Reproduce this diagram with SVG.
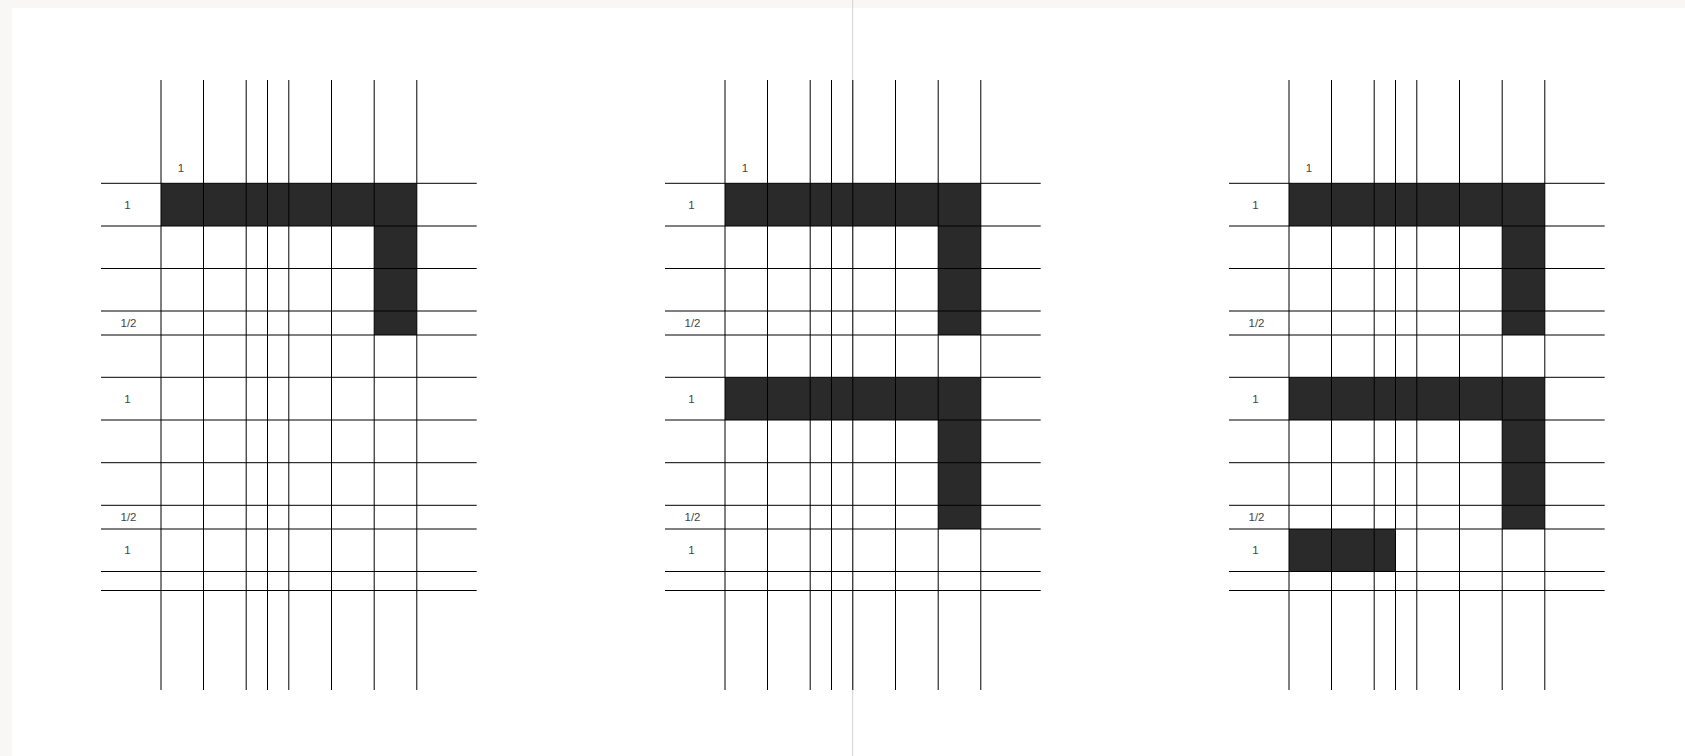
<svg xmlns="http://www.w3.org/2000/svg" xmlns:xlink="http://www.w3.org/1999/xlink" width="1685" height="756" viewBox="0 0 1685 756">
<style>
.ln{stroke:#000;stroke-width:1;fill:none}
.fill{fill:#2a2a2a}
.lbl{font-family:"Liberation Sans",Arial,sans-serif;font-size:11.5px;fill:#444;text-anchor:middle;dominant-baseline:central}
</style>
<defs>
<g id="gridlines">
<path class="ln" d="M161 80V690M203.5 80V690M246.2 80V690M267.5 80V690M288.8 80V690M331.5 80V690M374.2 80V690M416.8 80V690"/>
<path class="ln" d="M101 183.3H476.7M101 226H476.7M101 268.5H476.7M101 311H476.7M101 335H476.7M101 377.3H476.7M101 420H476.7M101 462.7H476.7M101 505.3H476.7M101 529H476.7M101 571.5H476.7M101 590.5H476.7"/>
</g>
<g id="labels">
<text class="lbl" x="181" y="167.5">1</text>
<text class="lbl" x="127.5" y="205">1</text>
<text class="lbl" x="128.5" y="323">1/2</text>
<text class="lbl" x="127.5" y="398.7">1</text>
<text class="lbl" x="128.5" y="517">1/2</text>
<text class="lbl" x="127.5" y="550.3">1</text>
</g>
</defs>
<rect x="0" y="0" width="1685" height="756" fill="#f8f7f5"/>
<rect x="12" y="8" width="1673" height="748" fill="#ffffff"/>
<line x1="852.7" y1="0" x2="852.7" y2="756" stroke="#d2d2d2" stroke-width="1"/>
<g id="panel1">
<rect class="fill" x="161" y="183.3" width="255.8" height="42.7"/>
<rect class="fill" x="374.2" y="226" width="42.6" height="109"/>
<use xlink:href="#gridlines"/>
<use xlink:href="#labels"/>
</g>
<g id="panel2" transform="translate(564 0)">
<rect class="fill" x="161" y="183.3" width="255.8" height="42.7"/>
<rect class="fill" x="374.2" y="226" width="42.6" height="109"/>
<rect class="fill" x="161" y="377.3" width="255.8" height="42.7"/>
<rect class="fill" x="374.2" y="420" width="42.6" height="109"/>
<use xlink:href="#gridlines"/>
<use xlink:href="#labels"/>
</g>
<g id="panel3" transform="translate(1128 0)">
<rect class="fill" x="161" y="183.3" width="255.8" height="42.7"/>
<rect class="fill" x="374.2" y="226" width="42.6" height="109"/>
<rect class="fill" x="161" y="377.3" width="255.8" height="42.7"/>
<rect class="fill" x="374.2" y="420" width="42.6" height="109"/>
<rect class="fill" x="161" y="529" width="106.5" height="42.5"/>
<use xlink:href="#gridlines"/>
<use xlink:href="#labels"/>
</g>
</svg>
